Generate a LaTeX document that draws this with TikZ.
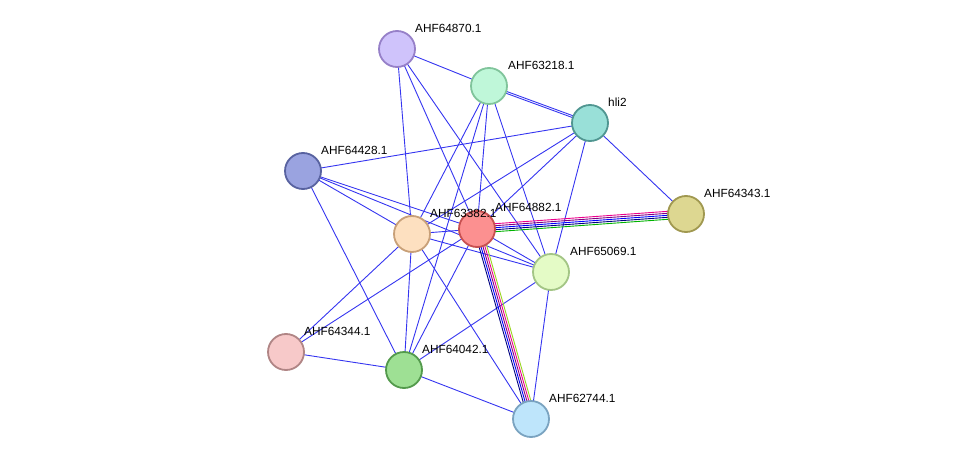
\documentclass[tikz,border=0pt]{standalone}
\usepackage{fontspec}
\setmainfont{Liberation Sans}
\definecolor{ea}{HTML}{3535F0}
\begin{document}
\begin{tikzpicture}[x=1pt,y=-1pt,
  nd/.style={circle,minimum size=36pt,inner sep=0pt,line width=1.8pt},
  lb/.style={font=\fontsize{11.8}{12}\selectfont,anchor=south west,inner sep=0pt},
  ed/.style={draw=ea,line width=0.9pt}]
\useasboundingbox (0,0) rectangle (976,465);
\coordinate (a) at (397,49);
\coordinate (b) at (489,86);
\coordinate (c) at (590,123);
\coordinate (d) at (303,171);
\coordinate (e) at (686,214);
\coordinate (f) at (412,234);
\coordinate (g) at (477,229);
\coordinate (h) at (551,272);
\coordinate (i) at (286,352);
\coordinate (j) at (404,370);
\coordinate (k) at (531,419);
\foreach \u/\v in {a/b,a/g,a/h,b/g,b/j,b/h,c/d,c/e,c/g,c/h,d/g,d/h,d/j,g/h,g/i,g/j,h/j,h/k,i/j,j/k,f/a,f/b,f/c,f/d,f/g,f/h,f/k,f/i,f/j}
  \draw[ed] (\u) -- (\v);
\draw[ed,transform canvas={yshift=-1pt}] (b) -- (c);
\draw[ed,transform canvas={yshift=1pt}] (b) -- (c);
\foreach \dy/\col in {4/magenta,2/violet,0/blue,-2/blue!50!black,-4/green!70!black}
  \draw[draw=\col,line width=0.9pt,transform canvas={yshift=\dy}] (g) -- (e);
\foreach \dx/\col in {5/yellow!60!green,3/magenta,1/violet,-1/blue,-3/blue!50!black}
  \draw[draw=\col,line width=0.9pt,transform canvas={xshift=\dx}] (g) -- (k);
\node[nd,fill={rgb,255:red,207;green,195;blue,251},draw={rgb,255:red,150;green,128;blue,200}] (na) at (a) {};
\node[nd,fill={rgb,255:red,191;green,247;blue,217},draw={rgb,255:red,128;green,196;blue,155}] (nb) at (b) {};
\node[nd,fill={rgb,255:red,153;green,224;blue,216},draw={rgb,255:red,80;green,150;blue,145}] (nc) at (c) {};
\node[nd,fill={rgb,255:red,154;green,163;blue,224},draw={rgb,255:red,88;green,98;blue,160}] (nd) at (d) {};
\node[nd,fill={rgb,255:red,221;green,215;blue,145},draw={rgb,255:red,160;green,152;blue,80}] (ne) at (e) {};
\node[nd,fill={rgb,255:red,252;green,144;blue,144},draw={rgb,255:red,200;green,80;blue,80}] (ng) at (g) {};
\node[nd,fill={rgb,255:red,253;green,224;blue,192},draw={rgb,255:red,200;green,160;blue,120}] (nf) at (f) {};
\node[nd,fill={rgb,255:red,228;green,251;blue,198},draw={rgb,255:red,163;green,197;blue,133}] (nh) at (h) {};
\node[nd,fill={rgb,255:red,247;green,201;blue,201},draw={rgb,255:red,176;green,133;blue,133}] (ni) at (i) {};
\node[nd,fill={rgb,255:red,158;green,224;blue,148},draw={rgb,255:red,83;green,154;blue,76}] (nj) at (j) {};
\node[nd,fill={rgb,255:red,190;green,229;blue,251},draw={rgb,255:red,122;green,163;blue,192}] (nk) at (k) {};
\node[lb] at (415,33) {AHF64870.1};
\node[lb] at (508,70) {AHF63218.1};
\node[lb] at (608,107) {hli2};
\node[lb] at (321,155) {AHF64428.1};
\node[lb] at (704,198) {AHF64343.1};
\node[lb] at (430,218) {AHF63382.1};
\node[lb] at (495,212) {AHF64882.1};
\node[lb] at (570,256) {AHF65069.1};
\node[lb] at (304,336) {AHF64344.1};
\node[lb] at (422,354) {AHF64042.1};
\node[lb] at (549,403) {AHF62744.1};
\end{tikzpicture}
\end{document}
